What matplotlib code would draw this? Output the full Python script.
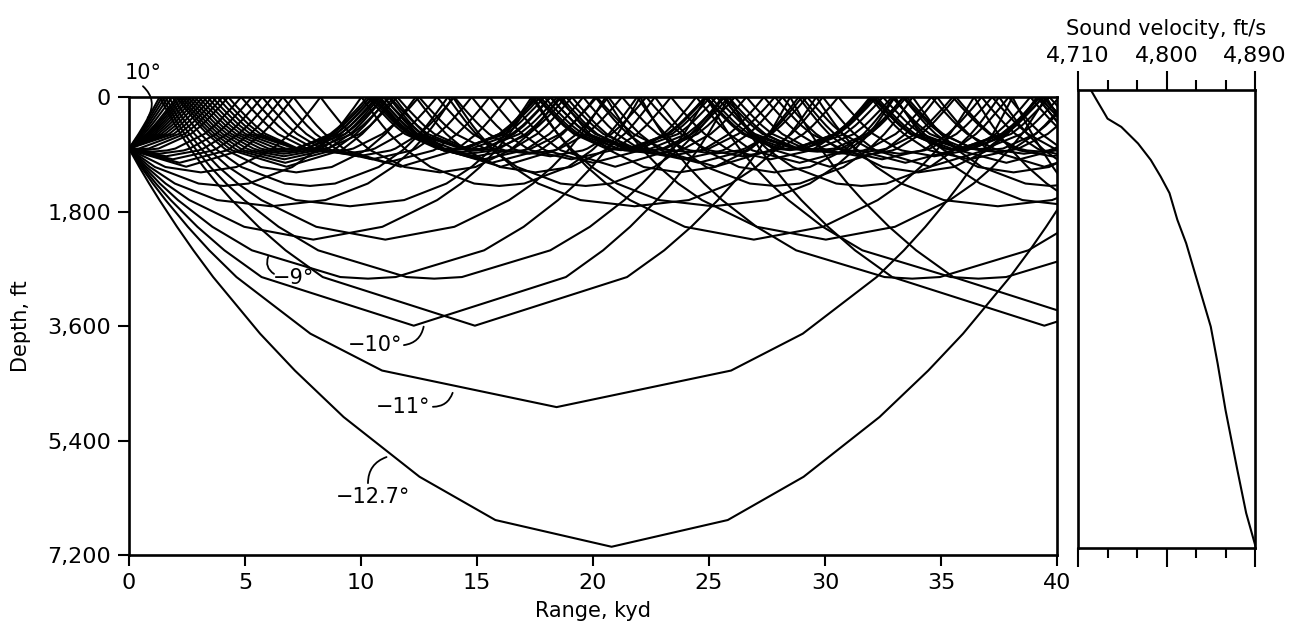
import numpy as np
import matplotlib.pyplot as plt

# sound velocity profile
depth_ft = [0, 160, 370, 450, 580, 840, 1100, 1360, 1620, 2040, 2410, 2830,
            3720, 4300, 5030, 5970, 6650, 7200]
speed_fps = [4723, 4729, 4737, 4740, 4754, 4771, 4784, 4794, 4803, 4811, 4820,
             4828, 4845, 4852, 4860, 4872, 4881, 4891]

source_depth = 810
# launch angles in degrees, positive = upward
launch_deg = [10, 9, 8, 7, 6, 5, 4.5, 4, 3.5, 3, 2.5, 2, 1.5, 1, 0.5, 0,
              -0.5, -1, -1.5, -2, -2.5, -3, -3.5, -4, -4.5,
              -5, -6, -7, -8, -9, -10, -11, -12.7]

range_ticks = [0, 5, 10, 15, 20, 25, 30, 35, 40]
depth_ticks = [0, 1800, 3600, 5400, 7200]
depth_labels = ["0", "1,800", "3,600", "5,400", "7,200"]
speed_ticks = [4710, 4800, 4890]
speed_labels = ["4,710", "4,800", "4,890"]
speed_minor = [4740, 4770, 4830, 4860]

# labelled rays: text, text position (kyd, ft), leader start, leader end, bend
ray_labels = [
    ("10°", (0.6, -380), (0.6, -170), (0.8, 330), -0.4),
    ("−9°", (7.1, 2850), (6.25, 2780), (6.0, 2510), -0.4),
    ("−10°", (10.6, 3900), (11.85, 3900), (12.7, 3610), 0.35),
    ("−11°", (11.8, 4870), (13.1, 4870), (13.95, 4650), 0.35),
    ("−12.7°", (10.5, 6290), (10.3, 6070), (11.1, 5660), -0.35),
]


def trace(angle, zs, cs, k0, xmax=125000.0):
    a = np.cos(np.radians(angle)) / cs[k0]
    i = k0
    down = angle <= 0
    x = 0.0
    xs, ds = [0.0], [zs[k0]]
    while x < xmax:
        if down:
            if i == len(zs) - 1:
                down = False
                continue
            c1, c2 = cs[i], cs[i + 1]
            g = (c2 - c1) / (zs[i + 1] - zs[i])
            s1 = np.sqrt(max(0.0, 1 - (a * c1) ** 2))
            if a * c2 < 1:
                s2 = np.sqrt(1 - (a * c2) ** 2)
                x += (s1 - s2) / (a * g)
                i += 1
                xs.append(x)
                ds.append(zs[i])
            else:
                # turning point inside the layer
                dx = s1 / (a * g)
                xs.append(x + dx)
                ds.append(zs[i] + (1 / a - c1) / g)
                x += 2 * dx
                xs.append(x)
                ds.append(zs[i])
                down = False
        else:
            if i == 0:
                down = True  # surface reflection
                continue
            c1, c2 = cs[i], cs[i - 1]
            g = (c1 - c2) / (zs[i] - zs[i - 1])
            s1 = np.sqrt(max(0.0, 1 - (a * c1) ** 2))
            s2 = np.sqrt(1 - (a * c2) ** 2)
            x += (s2 - s1) / (a * g)
            i -= 1
            xs.append(x)
            ds.append(zs[i])
    return np.array(xs) / 3000.0, np.array(ds)


zs = np.array(depth_ft, dtype=float)
cs = np.array(speed_fps, dtype=float)
k0 = np.searchsorted(zs, source_depth)
zs = np.insert(zs, k0, source_depth)
cs = np.insert(cs, k0, np.interp(source_depth, depth_ft, speed_fps))

plt.rcParams['font.family'] = 'DejaVu Sans'
fig = plt.figure(figsize=(13.02, 6.26), dpi=100)

# ----- ray diagram -----
ax = fig.add_axes([0.0991, 0.1134, 0.7127, 0.7316])
for ang in launch_deg:
    rx, rz = trace(ang, zs, cs, k0)
    ax.plot(rx, rz, color="black", lw=1.5)

ax.set_xlim(0, 40)
ax.set_ylim(7200, 0)
ax.set_xticks(range_ticks)
ax.set_yticks(depth_ticks)
ax.set_yticklabels(depth_labels)
ax.tick_params(direction="out", length=8, width=1.5, labelsize=16, pad=5)
for s in ax.spines.values():
    s.set_linewidth(1.9)
ax.set_xlabel("Range, kyd", fontsize=15)
ax.set_ylabel("Depth, ft", fontsize=15)
ax.xaxis.set_label_coords(0.5, -0.1)
ax.yaxis.set_label_coords(-0.106, 0.5)

for txt, tpos, lstart, lend, rad in ray_labels:
    ax.text(tpos[0], tpos[1], txt, fontsize=15, ha="center", va="center",
            clip_on=False)
    ax.annotate("", xy=lend, xytext=lstart, annotation_clip=False,
                arrowprops=dict(arrowstyle="-", lw=1.3, color="black",
                                shrinkA=0, shrinkB=0,
                                connectionstyle=f"arc3,rad={rad}"))

# ----- sound velocity profile -----
ax2 = fig.add_axes([0.828, 0.1246, 0.1359, 0.7316])
ax2.plot(speed_fps, depth_ft, color="black", lw=1.5)
ax2.set_xlim(4710, 4890)
ax2.set_ylim(7200, 0)
ax2.set_yticks([])
ax2.set_xticks(speed_ticks)
ax2.set_xticklabels(speed_labels)
ax2.set_xticks(speed_minor, minor=True)
ax2.tick_params(axis="x", which="major", direction="out", length=14, width=1.5,
                top=True, bottom=True, labeltop=True, labelbottom=False,
                labelsize=16, pad=3)
ax2.tick_params(axis="x", which="minor", direction="out", length=7, width=1.5,
                top=True, bottom=True)
for s in ax2.spines.values():
    s.set_linewidth(1.9)
ax2.xaxis.set_label_position("top")
ax2.set_xlabel("Sound velocity, ft/s", fontsize=15, labelpad=8)

fig.savefig("out.png", dpi=100)
